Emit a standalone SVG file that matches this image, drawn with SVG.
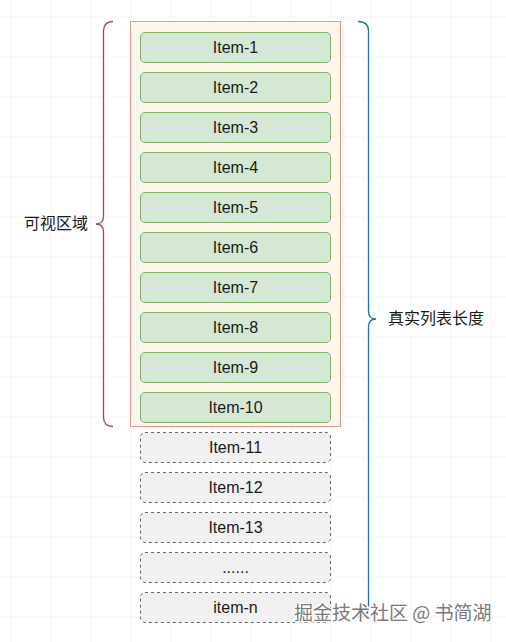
<svg xmlns="http://www.w3.org/2000/svg" width="506" height="642" viewBox="0 0 506 642">
<defs>
<pattern id="grid" x="10.5" y="16.5" width="40" height="40" patternUnits="userSpaceOnUse">
<path d="M0,0 H40 M0,0 V40" fill="none" stroke="#ebebeb" stroke-width="1"/>
</pattern>
</defs>
<style>
.item{fill:#d5e8d4;stroke:#82b366;stroke-width:1}
.ghost{fill:#f0f0f0;stroke:#666666;stroke-width:1;stroke-dasharray:3 3}
.lbl{font-family:"Liberation Sans",Arial,sans-serif;font-size:16px;fill:#1a1a1a;text-anchor:middle}
.cjk{font-family:"Liberation Sans","Noto Sans CJK SC",sans-serif;font-size:16px;fill:#1a1a1a}
.wm{font-family:"Noto Sans CJK SC",sans-serif;font-size:19px;fill:#7a7a7a;stroke:#ffffff;stroke-width:2.5;paint-order:stroke;stroke-linejoin:round}
</style>
<rect width="506" height="642" fill="#ffffff"/>
<rect width="506" height="642" fill="url(#grid)"/>

<g id="viewport">
<rect x="130.5" y="21.5" width="210" height="405" fill="#fcf7ea" stroke="#e99590" stroke-width="1"/>
</g>

<g id="item-1"><rect class="item" x="140.5" y="32.5" width="190" height="30" rx="4.5"/><text class="lbl" x="235.5" y="53">Item-1</text></g>
<g id="item-2"><rect class="item" x="140.5" y="72.5" width="190" height="30" rx="4.5"/><text class="lbl" x="235.5" y="93">Item-2</text></g>
<g id="item-3"><rect class="item" x="140.5" y="112.5" width="190" height="30" rx="4.5"/><text class="lbl" x="235.5" y="133">Item-3</text></g>
<g id="item-4"><rect class="item" x="140.5" y="152.5" width="190" height="30" rx="4.5"/><text class="lbl" x="235.5" y="173">Item-4</text></g>
<g id="item-5"><rect class="item" x="140.5" y="192.5" width="190" height="30" rx="4.5"/><text class="lbl" x="235.5" y="213">Item-5</text></g>
<g id="item-6"><rect class="item" x="140.5" y="232.5" width="190" height="30" rx="4.5"/><text class="lbl" x="235.5" y="253">Item-6</text></g>
<g id="item-7"><rect class="item" x="140.5" y="272.5" width="190" height="30" rx="4.5"/><text class="lbl" x="235.5" y="293">Item-7</text></g>
<g id="item-8"><rect class="item" x="140.5" y="312.5" width="190" height="30" rx="4.5"/><text class="lbl" x="235.5" y="333">Item-8</text></g>
<g id="item-9"><rect class="item" x="140.5" y="352.5" width="190" height="30" rx="4.5"/><text class="lbl" x="235.5" y="373">Item-9</text></g>
<g id="item-10"><rect class="item" x="140.5" y="392.5" width="190" height="30" rx="4.5"/><text class="lbl" x="235.5" y="413">Item-10</text></g>

<g id="item-11"><rect class="ghost" x="140.5" y="432.5" width="190" height="30" rx="4.5"/><text class="lbl" x="235.5" y="453">Item-11</text></g>
<g id="item-12"><rect class="ghost" x="140.5" y="472.5" width="190" height="30" rx="4.5"/><text class="lbl" x="235.5" y="493">Item-12</text></g>
<g id="item-13"><rect class="ghost" x="140.5" y="512.5" width="190" height="30" rx="4.5"/><text class="lbl" x="235.5" y="533">Item-13</text></g>
<g id="item-more"><rect class="ghost" x="140.5" y="552.5" width="190" height="30" rx="4.5"/><text class="lbl" x="235.5" y="573">......</text></g>
<g id="item-n"><rect class="ghost" x="140.5" y="592.5" width="190" height="30" rx="4.5"/><text class="lbl" x="235.5" y="613">item-n</text></g>

<g id="connectors" fill="none" stroke-width="1.3">
<path id="brace-visible" stroke="#a8406f" d="M113,21.5 Q103.5,21.5 103.5,31 L103.5,216 Q103.5,224 96,224 Q103.5,224 103.5,232 L103.5,417 Q103.5,426.5 113,426.5"/>
<path id="brace-total" stroke="#1b6fb4" d="M358,21.5 Q368.5,21.5 368.5,31 L368.5,311 Q368.5,319 376,319 Q368.5,319 368.5,327 L368.5,607 Q368.5,617 358,617"/>
</g>

<g id="label-visible"><text class="cjk" x="24" y="229">可视区域</text></g>
<g id="label-total"><text class="cjk" x="388" y="324">真实列表长度</text></g>

<text class="wm" x="294" y="620">掘金技术社区 @ 书简湖</text>
</svg>
